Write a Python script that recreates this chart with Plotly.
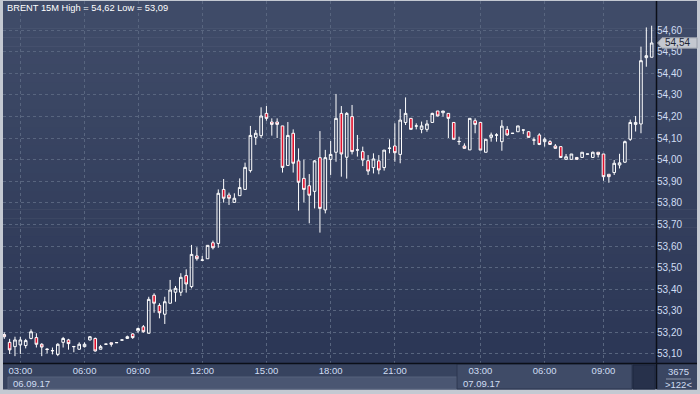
import plotly.graph_objects as go

# ---------------- data ----------------
OPEN = [53.19, 53.154, 53.134, 53.142, 53.139, 53.172, 53.176, 53.145, 53.123, 53.116,
        53.098, 53.154, 53.165, 53.135, 53.122, 53.134, 53.165, 53.172, 53.122, 53.145,
        53.152, 53.152, 53.164, 53.172, 53.193, 53.207, 53.226, 53.196, 53.372, 53.325,
        53.284, 53.335, 53.386, 53.386, 53.463, 53.412, 53.554, 53.534, 53.541, 53.615,
        53.612, 53.862, 53.836, 53.802, 53.833, 53.862, 53.949, 54.103, 54.111, 54.214,
        54.174, 54.174, 54.156, 53.973, 54.122, 53.994, 53.913, 53.879, 53.853, 54.009,
        53.767, 54.001, 54.034, 54.214, 54.011, 54.199, 54.044, 54.037, 53.995, 53.963,
        53.994, 53.963, 54.052, 54.063, 54.024, 54.172, 54.191, 54.155, 54.14, 54.14,
        54.172, 54.225, 54.217, 54.214, 54.172, 54.083, 54.063, 54.045, 54.18, 54.172,
        54.034, 54.103, 54.113, 54.083, 54.14, 54.121, 54.129, 54.137, 54.129, 54.09,
        54.114, 54.083, 54.083, 54.063, 54.06, 54.001, 54.001, 54.01, 54.01, 54.025,
        54.01, 54.034, 54.026, 53.932, 53.94, 53.975, 53.988, 54.094, 54.163, 54.165,
        54.472, 54.474]
HIGH = [53.20, 53.17, 53.18, 53.18, 53.17, 53.214, 53.196, 53.15, 53.126, 53.13,
        53.15, 53.179, 53.17, 53.135, 53.154, 53.154, 53.183, 53.176, 53.142, 53.146,
        53.152, 53.153, 53.166, 53.185, 53.196, 53.222, 53.234, 53.365, 53.381, 53.335,
        53.365, 53.443, 53.415, 53.474, 53.492, 53.605, 53.594, 53.554, 53.603, 53.625,
        53.862, 53.91, 53.847, 53.844, 53.913, 53.986, 54.156, 54.137, 54.242, 54.248,
        54.191, 54.191, 54.156, 54.174, 54.14, 54.052, 54.00, 53.933, 53.998, 54.132,
        54.045, 54.086, 54.304, 54.248, 54.22, 54.253, 54.114, 54.06, 54.021, 54.029,
        54.021, 54.044, 54.094, 54.168, 54.234, 54.288, 54.191, 54.168, 54.176, 54.183,
        54.217, 54.225, 54.225, 54.214, 54.172, 54.106, 54.075, 54.191, 54.191, 54.172,
        54.094, 54.125, 54.122, 54.183, 54.155, 54.122, 54.156, 54.138, 54.132, 54.103,
        54.122, 54.103, 54.09, 54.072, 54.06, 54.026, 54.026, 54.01, 54.034, 54.026,
        54.037, 54.034, 54.026, 53.932, 53.998, 54.027, 54.088, 54.185, 54.202, 54.523,
        54.612, 54.62]
LOW = [53.17, 53.10, 53.09, 53.10, 53.126, 53.168, 53.13, 53.09, 53.103, 53.098,
       53.09, 53.13, 53.12, 53.108, 53.12, 53.13, 53.163, 53.111, 53.122, 53.144,
       53.134, 53.152, 53.163, 53.17, 53.17, 53.198, 53.199, 53.195, 53.291, 53.265,
       53.239, 53.335, 53.342, 53.369, 53.384, 53.404, 53.532, 53.533, 53.541, 53.584,
       53.592, 53.801, 53.79, 53.80, 53.833, 53.862, 53.94, 54.068, 54.10, 54.18,
       54.111, 54.10, 53.94, 53.973, 53.94, 53.764, 53.802, 53.705, 53.774, 53.662,
       53.751, 53.929, 53.99, 53.921, 53.912, 54.024, 54.014, 53.97, 53.929, 53.936,
       53.932, 53.949, 54.029, 53.99, 53.983, 54.16, 54.14, 54.14, 54.122, 54.129,
       54.172, 54.20, 54.199, 54.10, 54.094, 54.068, 54.052, 54.045, 54.122, 54.044,
       54.034, 54.083, 54.083, 54.041, 54.11, 54.12, 54.129, 54.118, 54.103, 54.068,
       54.067, 54.06, 54.07, 54.052, 54.01, 54.001, 54.001, 54.001, 54.01, 54.025,
       54.01, 54.01, 53.902, 53.893, 53.929, 53.959, 53.985, 54.087, 54.13, 54.122,
       54.43, 54.474]
CLOSE = [53.18, 53.119, 53.165, 53.165, 53.162, 53.203, 53.145, 53.132, 53.121, 53.115,
         53.145, 53.172, 53.148, 53.134, 53.145, 53.145, 53.18, 53.114, 53.134, 53.146,
         53.145, 53.153, 53.165, 53.180, 53.176, 53.218, 53.203, 53.353, 53.335, 53.291,
         53.342, 53.396, 53.404, 53.455, 53.424, 53.561, 53.541, 53.535, 53.603, 53.592,
         53.844, 53.821, 53.821, 53.821, 53.871, 53.964, 54.112, 54.122, 54.202, 54.191,
         54.163, 54.163, 53.964, 54.112, 53.983, 53.895, 53.862, 53.835, 53.994, 53.774,
         54.009, 54.024, 54.191, 54.026, 54.214, 54.037, 54.045, 53.998, 53.947, 54.003,
         53.952, 54.044, 54.053, 54.032, 54.183, 54.214, 54.14, 54.156, 54.156, 54.165,
         54.214, 54.202, 54.225, 54.191, 54.094, 54.084, 54.052, 54.191, 54.163, 54.044,
         54.094, 54.114, 54.114, 54.155, 54.114, 54.122, 54.156, 54.137, 54.103, 54.091,
         54.07, 54.094, 54.07, 54.052, 54.01, 54.013, 54.026, 54.001, 54.034, 54.026,
         54.034, 54.024, 53.921, 53.921, 53.983, 53.985, 54.083, 54.172, 54.172, 54.458,
         54.481, 54.54]

TIME_TICK_IDX = [3, 15, 25, 37, 49, 61, 73, 89, 101, 112]
TIME_TICK_TEXT = ["03:00", "06:00", "09:00", "12:00", "15:00", "18:00", "21:00",
                  "03:00", "06:00", "09:00"]
PRICE_TICKS = [53.10, 53.20, 53.30, 53.40, 53.50, 53.60, 53.70, 53.80,
               53.90, 54.00, 54.10, 54.20, 54.30, 54.40, 54.50, 54.60]
PRICE_TICK_TEXT = ["53,10", "53,20", "53,30", "53,40", "53,50", "53,60", "53,70", "53,80",
                   "53,90", "54,00", "54,10", "54,20", "54,30", "54,40", "54,50", "54,60"]
DATE_LABELS = ["06.09.17", "07.09.17"]
SYMBOL = "BRENT"
TIMEFRAME = "15M"
VOLUME_TEXT = "3675"
BARS_TEXT = ">122<"


def fmt(v):
    return f"{v:.2f}".replace(".", ",")


# ---------------- layout geometry (pixels) ----------------
FIG_W, FIG_H = 700, 394
PL, PR, PT, PB = 3, 656, 1, 363          # plot area edges in px
PW, PH = PR - PL, PB - PT


def xp(px):
    return (px - PL) / PW


def yp(py):
    return (PB - py) / PH


X_RANGE = [-0.24, 121.81]
Y_RANGE = [53.0583, 54.7343]

FONT = "Liberation Sans, Arial, sans-serif"
LABEL_COLOR = "#d0ddf3"

x = list(range(len(OPEN)))

fig = go.Figure()
fig.add_trace(go.Candlestick(
    x=x, open=OPEN, high=HIGH, low=LOW, close=CLOSE,
    increasing=dict(line=dict(color="#ffffff", width=1), fillcolor="rgba(0,0,0,0)"),
    decreasing=dict(line=dict(color="#ffffff", width=1), fillcolor="#e0102c"),
    whiskerwidth=0, hoverinfo="skip", showlegend=False,
))

shapes = []
# gradient background (plot + price axis)
top_c = (64, 76, 105)
bot_c = (43, 54, 85)
N = 40
step = (PB - PT) / N
for k in range(N):
    t = (k + 0.5) / N
    c = tuple(round(top_c[j] + (bot_c[j] - top_c[j]) * t) for j in range(3))
    shapes.append(dict(type="rect", xref="paper", yref="paper", layer="below",
                       x0=xp(3), x1=xp(697), y0=yp(PT + k * step), y1=yp(PT + (k + 1) * step + 0.6),
                       fillcolor="rgb(%d,%d,%d)" % c, line=dict(width=0)))

# bottom time-axis band
shapes.append(dict(type="rect", xref="paper", yref="paper", layer="below",
                   x0=xp(3), x1=xp(697), y0=yp(389.5), y1=yp(363),
                   fillcolor="#37435f", line=dict(width=0)))
# 06.09.17 date band
shapes.append(dict(type="rect", xref="paper", yref="paper", layer="below",
                   x0=xp(8), x1=xp(457), y0=yp(389), y1=yp(377),
                   fillcolor="#4a5672", line=dict(color="#56627d", width=1)))
# 07.09.17 section
shapes.append(dict(type="rect", xref="paper", yref="paper", layer="below",
                   x0=xp(457), x1=xp(632), y0=yp(389), y1=yp(364),
                   fillcolor="#3f4b67", line=dict(color="#2c3650", width=1)))
# dark box
shapes.append(dict(type="rect", xref="paper", yref="paper", layer="below",
                   x0=xp(633), x1=xp(655), y0=yp(389), y1=yp(365),
                   fillcolor="#27314b", line=dict(color="#1f2840", width=1)))
# bottom-right info box
shapes.append(dict(type="rect", xref="paper", yref="paper", layer="below",
                   x0=xp(657), x1=xp(697), y0=yp(389.5), y1=yp(364),
                   fillcolor="#3a4662", line=dict(width=0)))
shapes.append(dict(type="line", xref="paper", yref="paper", layer="above",
                   x0=xp(666), x1=xp(691), y0=yp(379), y1=yp(379),
                   line=dict(color="#8d97ab", width=1)))
# black separators
shapes.append(dict(type="line", xref="paper", yref="paper", layer="above",
                   x0=xp(3), x1=xp(697), y0=yp(363.5), y1=yp(363.5),
                   line=dict(color="#0b0f18", width=1.5)))
shapes.append(dict(type="line", xref="paper", yref="paper", layer="above",
                   x0=xp(656.5), x1=xp(656.5), y0=yp(1), y1=yp(389),
                   line=dict(color="#0b0f18", width=1.5)))

# last price marker (arrow box)
last = CLOSE[-1]
ly = (last - Y_RANGE[0]) / (Y_RANGE[1] - Y_RANGE[0])
hh = 5.2 / PH
path = "M {a},{ym} L {b},{yt} L {c},{yt} L {c},{yb} L {b},{yb} Z".format(
    a=xp(657.5), b=xp(662), c=xp(697), ym=ly, yt=ly + hh, yb=ly - hh)
shapes.append(dict(type="path", xref="paper", yref="paper", layer="above", path=path,
                   fillcolor="#c4c8d0", line=dict(color="#9aa0ab", width=1)))

annotations = [
    dict(text=f"{SYMBOL} {TIMEFRAME} High = {fmt(max(HIGH))} Low = {fmt(min(LOW))}",
         xref="paper", yref="paper", x=xp(5), y=yp(7.5), xanchor="left", yanchor="middle",
         showarrow=False, font=dict(family=FONT, size=9.3, color="#ffffff")),
    dict(text=fmt(last), xref="paper", yref="paper", x=xp(663), y=ly,
         xanchor="left", yanchor="middle", showarrow=False,
         font=dict(family=FONT, size=10, color="#1c2433")),
    dict(text=DATE_LABELS[0], xref="paper", yref="paper", x=xp(11), y=yp(383.5),
         xanchor="left", yanchor="middle", showarrow=False,
         font=dict(family=FONT, size=9.5, color=LABEL_COLOR)),
    dict(text=DATE_LABELS[1], xref="paper", yref="paper", x=xp(461), y=yp(383.5),
         xanchor="left", yanchor="middle", showarrow=False,
         font=dict(family=FONT, size=9.5, color=LABEL_COLOR)),
    dict(text=VOLUME_TEXT, xref="paper", yref="paper", x=xp(678), y=yp(371.5),
         xanchor="center", yanchor="middle", showarrow=False,
         font=dict(family=FONT, size=9.5, color=LABEL_COLOR)),
    dict(text=BARS_TEXT.replace("<", "&lt;").replace(">", "&gt;"), xref="paper", yref="paper",
         x=xp(678), y=yp(384.8), xanchor="center", yanchor="middle", showarrow=False,
         font=dict(family=FONT, size=9.5, color=LABEL_COLOR)),
]

fig.update_layout(
    width=FIG_W, height=FIG_H,
    margin=dict(l=PL, r=FIG_W - PR, t=PT, b=FIG_H - PB, pad=0),
    paper_bgcolor="#c4c9d2",
    plot_bgcolor="rgba(0,0,0,0)",
    shapes=shapes,
    annotations=annotations,
    showlegend=False,
    xaxis=dict(range=X_RANGE, tickmode="array", tickvals=TIME_TICK_IDX, ticktext=TIME_TICK_TEXT,
               showgrid=True, gridcolor="#58657f", griddash="3px,3px", gridwidth=1,
               zeroline=False, showline=False, ticks="", rangeslider=dict(visible=False),
               tickfont=dict(family=FONT, size=9.5, color=LABEL_COLOR), fixedrange=True),
    yaxis=dict(range=Y_RANGE, side="right", tickmode="array", tickvals=PRICE_TICKS,
               ticktext=PRICE_TICK_TEXT, showgrid=True, gridcolor="#58657f",
               griddash="3px,3px", gridwidth=1, zeroline=False, showline=False, ticks="",
               tickfont=dict(family=FONT, size=10, color=LABEL_COLOR), fixedrange=True),
)

fig.write_html("out.html", config={"displayModeBar": False},
               post_script="document.body.style.margin='0';document.body.style.padding='0';"
                           "document.body.style.overflow='hidden';")
